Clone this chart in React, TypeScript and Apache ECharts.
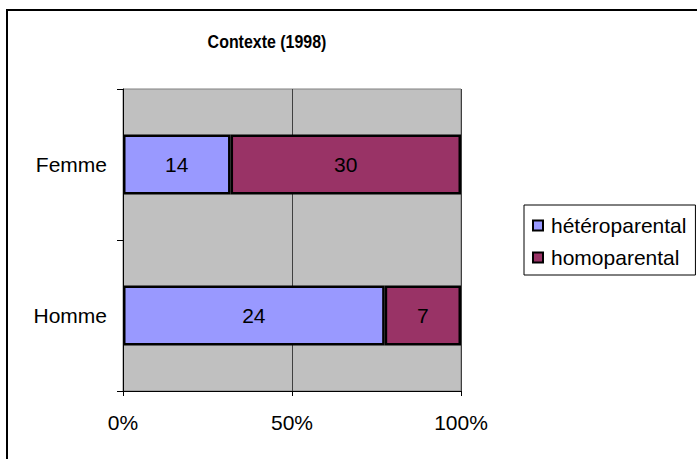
import React, { useEffect, useRef } from "react";
import * as echarts from "echarts";

const categories = ["Femme", "Homme"];
const seriesNames = ["hétéroparental", "homoparental"];
const heteroValues = [14, 24];
const homoValues = [30, 7];
const xTicks = [0, 50, 100];
const titleText = "Contexte (1998)";

const FONT = "Liberation Sans, Arial, sans-serif";

export default function App() {
  const ref = useRef<HTMLDivElement>(null);
  useEffect(() => {
    if (!ref.current) return;
    const chart = echarts.init(ref.current, undefined, { renderer: "svg" });
    const totals = categories.map((_, i) => heteroValues[i] + homoValues[i]);
    const raw = [heteroValues, homoValues];
    const colors = ["#9999FF", "#993366"];
    chart.setOption({
      animation: false,
      backgroundColor: "#ffffff",
      textStyle: { fontFamily: FONT },
      graphic: [
        {
          type: "rect",
          shape: { x: 7, y: 10, width: 800, height: 600 },
          style: { fill: "none", stroke: "#000", lineWidth: 2 },
          z: 100,
          silent: true,
        },
        {
          type: "text",
          x: 267,
          y: 42,
          scaleX: 0.84,
          style: {
            text: titleText,
            fontFamily: FONT,
            fontSize: 19,
            fontWeight: "bold",
            fill: "#000",
            textAlign: "center",
            textVerticalAlign: "middle",
          },
          z: 100,
        },
      ],
      legend: {
        orient: "vertical",
        left: 524,
        top: 205,
        padding: [10, 9, 7, 8],
        itemGap: 11,
        itemWidth: 10,
        itemHeight: 10,
        icon: "rect",
        borderColor: "#000",
        borderWidth: 1,
        backgroundColor: "#fff",
        itemStyle: { borderColor: "#000", borderWidth: 2 },
        textStyle: { fontFamily: FONT, fontSize: 21, color: "#000", padding: [0, 0, 0, 3] },
        data: seriesNames,
      },
      grid: {
        left: 123,
        right: 236,
        top: 89,
        bottom: 68,
        show: true,
        backgroundColor: "#C0C0C0",
        borderColor: "#808080",
        borderWidth: 1,
      },
      xAxis: {
        type: "value",
        min: xTicks[0],
        max: xTicks[xTicks.length - 1],
        interval: 50,
        axisLine: { show: true, lineStyle: { color: "#000", width: 1 } },
        axisTick: { show: true, length: 5, lineStyle: { color: "#000" } },
        axisLabel: {
          formatter: "{value}%",
          fontFamily: FONT,
          fontSize: 21,
          color: "#000",
          margin: 21,
        },
        splitLine: { show: true, lineStyle: { color: "#404040", width: 1 } },
      },
      yAxis: {
        type: "category",
        inverse: true,
        data: categories,
        axisLine: { show: true, lineStyle: { color: "#000", width: 1 } },
        axisTick: { show: true, length: 6, alignWithLabel: false, lineStyle: { color: "#000" } },
        axisLabel: { fontFamily: FONT, fontSize: 21, color: "#000", margin: 16 },
        splitLine: { show: false },
      },
      series: seriesNames.map((name, s) => ({
        name,
        type: "bar",
        stack: "total",
        barWidth: 60,
        itemStyle: { color: colors[s], borderColor: "#000", borderWidth: 2.5 },
        label: {
          show: true,
          position: "inside",
          fontFamily: FONT,
          fontSize: 21,
          color: "#000",
          formatter: (p: any) => String(raw[s][p.dataIndex]),
        },
        data: raw[s].map((v, i) => (v / totals[i]) * 100),
      })),
    });
    return () => chart.dispose();
  }, []);
  return (
    <div
      ref={ref}
      style={{ position: "fixed", left: 0, top: 0, width: 697, height: 459 }}
    />
  );
}
